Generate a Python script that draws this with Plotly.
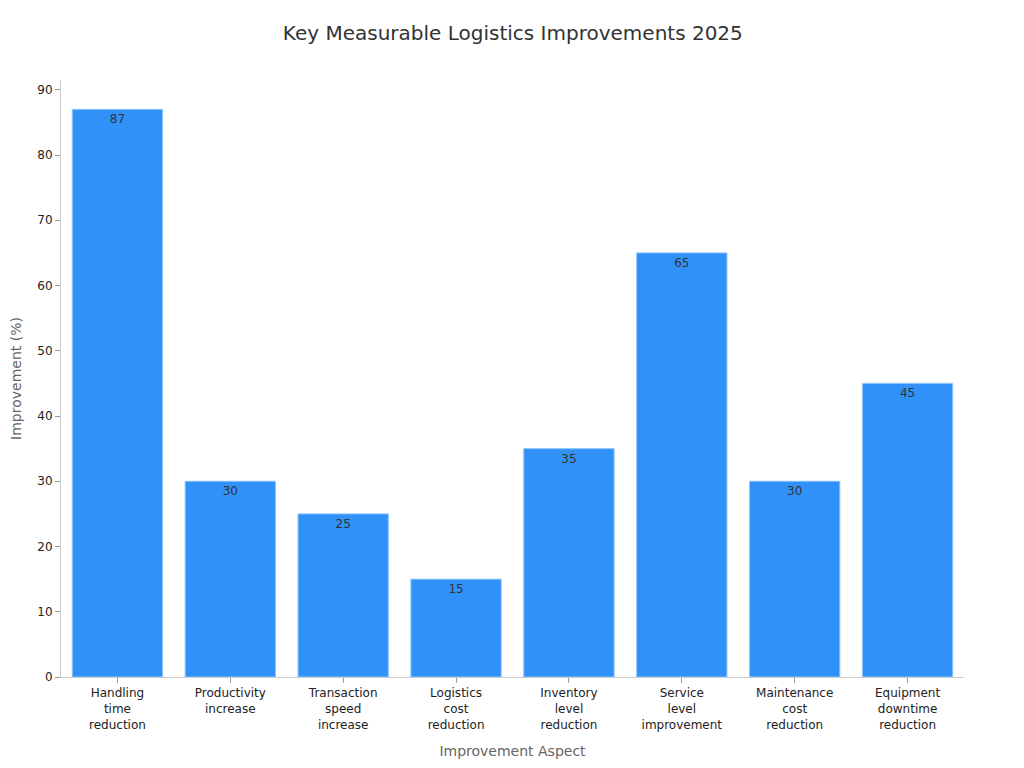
import plotly.graph_objects as go

categories = ["Handling<br>time<br>reduction", "Productivity<br>increase",
              "Transaction<br>speed<br>increase", "Logistics<br>cost<br>reduction",
              "Inventory<br>level<br>reduction", "Service<br>level<br>improvement",
              "Maintenance<br>cost<br>reduction", "Equipment<br>downtime<br>reduction"]
improvement = [87, 30, 25, 15, 35, 65, 30, 45]

fig = go.Figure(data=[go.Bar(
    x=categories, y=improvement,
    text=improvement, textposition="inside", insidetextanchor="end",
    textfont=dict(color="#333333", size=12),
    marker=dict(color="#3092F8", line=dict(color="#8CC4FA", width=1)),
    width=0.8,
)])

fig.update_layout(
    width=1024, height=768,
    font=dict(family="DejaVu Sans", color="#333333", size=12),
    title=dict(text="Key Measurable Logistics Improvements 2025", x=0.493, y=0.977,
               xanchor="center", font=dict(size=20, color="#333333")),
    plot_bgcolor="white", paper_bgcolor="white",
    margin=dict(l=53, r=68, t=72, b=99),
    showlegend=False,
    xaxis=dict(title=dict(text="Improvement Aspect", font=dict(size=14, color="#666666")),
               showline=True, linecolor="#cccccc", ticks="outside", tickcolor="#999999",
               ticklen=5, tickfont=dict(size=12, color="#222222")),
    yaxis=dict(title=dict(text="Improvement (%)", font=dict(size=14, color="#666666"),
                          standoff=12),
               automargin=False,
               range=[0, 91.5], dtick=10, showgrid=False, zeroline=False,
               showline=True, linecolor="#cccccc", ticks="outside", tickcolor="#999999",
               ticklen=5, tickfont=dict(size=12, color="#222222")),
)

fig.write_html("out.html")
